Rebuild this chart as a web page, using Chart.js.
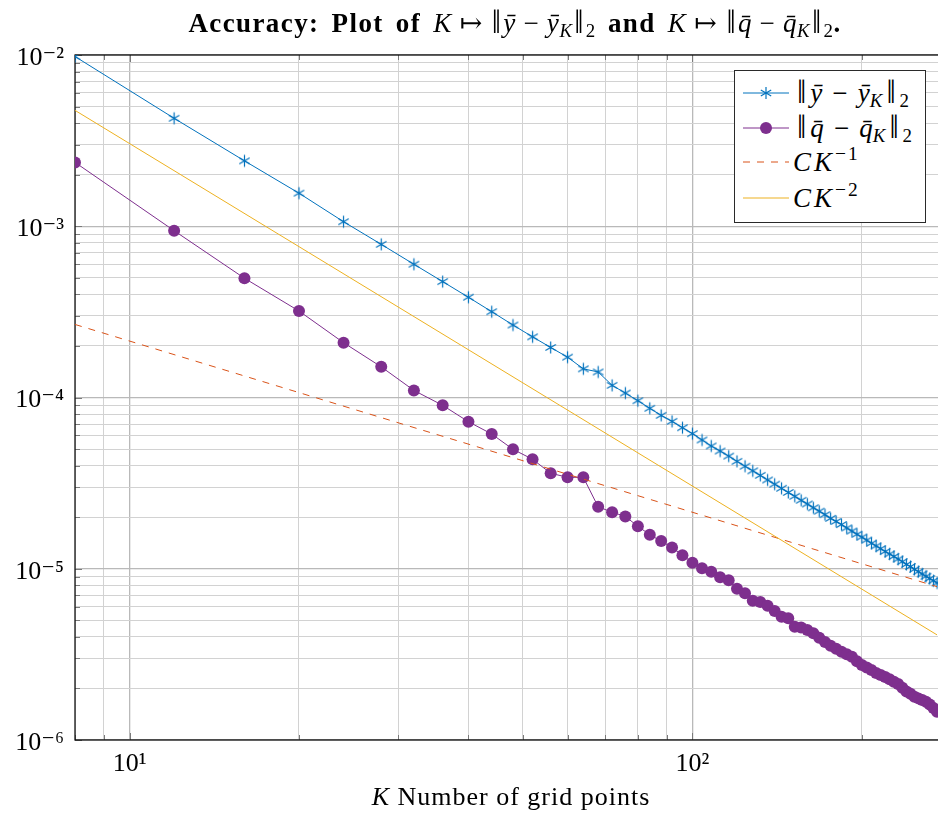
<!DOCTYPE html>
<html>
<head>
<meta charset="utf-8">
<script src="https://cdn.jsdelivr.net/npm/chart.js@4.4.1/dist/chart.umd.min.js"></script>
<style>
  html, body { margin: 0; padding: 0; background: #fff; overflow: hidden; }
  #wrap { position: relative; width: 938px; height: 816px; overflow: hidden; }
  #chart { position: absolute; left: 0; top: 0; width: 960px; height: 816px; }
  .serif { font-family: 'Liberation Serif', 'DejaVu Serif', serif; color: #000; }
  #title { position: absolute; left: 0; width: 1030px; top: 6px; text-align: center;
           font-size: 27px; font-weight: bold; line-height: 34px; white-space: nowrap;
           letter-spacing: 1.4px; word-spacing: 4px; }
  #title .m { font-weight: normal; letter-spacing: 0.6px; }
  #xlabel { position: absolute; left: 0; width: 1022px; top: 782px; text-align: center;
            font-size: 26px; line-height: 30px; white-space: nowrap; letter-spacing: 1px; }
  #legend { position: absolute; left: 734px; top: 70px; width: 190px; height: 151px;
            border: 1px solid #2a2a2a; background: #fff; }
  .row { position: absolute; left: 0; height: 34px; width: 190px; }
  .row svg { position: absolute; left: 8px; top: 0; }
  .row span.t { position: absolute; left: 58px; top: 0; font-size: 27px; line-height: 34px; white-space: nowrap; }
  .row .op { margin: 0 0.38em; }
  .row .nb { margin: 0 0.12em; }
  .op { margin: 0 0.28em; }
  .nb { font-size: 1.22em; margin: 0 0.05em; line-height: 0; vertical-align: -0.04em; }
  .ck { letter-spacing: 3px; }
  sub { font-size: 0.7em; vertical-align: -0.28em; line-height: 0; }
  sup { font-size: 0.72em; vertical-align: 0.55em; line-height: 0; letter-spacing: 2px; }
</style>
</head>
<body>
<div id="wrap">
  <canvas id="chart" width="960" height="816"></canvas>
  <div id="title" class="serif">Accuracy: Plot of <span class="m"><i>K</i><span class="op">↦</span><span class="nb">‖</span><i>ȳ</i><span class="op">−</span><i>ȳ</i><sub><i>K</i></sub><span class="nb">‖</span><sub>2</sub></span> and <span class="m"><i>K</i><span class="op">↦</span><span class="nb">‖</span><i>q̄</i><span class="op">−</span><i>q̄</i><sub><i>K</i></sub><span class="nb">‖</span><sub>2</sub></span>.</div>
  <div id="xlabel" class="serif"><i>K</i> Number of grid points</div>
  <div id="legend" class="serif"></div>
</div>
<script>
// grid sizes K
const K = [8, 12, 16, 20, 24, 28, 32, 36, 40, 44, 48, 52, 56, 60, 64, 68, 72, 76, 80, 84,
           88, 92, 96, 100, 104, 108, 112, 116, 120, 124, 128, 132, 136, 140, 144, 148, 152, 156, 160, 164,
           168, 172, 176, 180, 184, 188, 192, 196, 200, 204, 208, 212, 216, 220, 224, 228, 232, 236, 240, 244,
           248, 252, 256, 260, 264, 268, 272];

// ||ybar - ybar_K||_2
const errY = [9.8e-3, 4.27e-3, 2.41e-3, 1.56e-3, 1.063e-3, 7.84e-4, 6.0e-4, 4.75e-4, 3.85e-4, 3.17e-4,
              2.65e-4, 2.26e-4, 1.96e-4, 1.72e-4, 1.47e-4, 1.41e-4, 1.178e-4, 1.062e-4, 9.58e-5, 8.65e-5,
              7.87e-5, 7.26e-5, 6.66e-5, 6.15e-5, 5.65e-5, 5.21e-5, 4.87e-5, 4.55e-5, 4.24e-5, 3.97e-5,
              3.73e-5, 3.51e-5, 3.30e-5, 3.12e-5, 2.95e-5, 2.79e-5, 2.65e-5, 2.51e-5, 2.39e-5, 2.27e-5,
              2.17e-5, 2.07e-5, 1.97e-5, 1.89e-5, 1.81e-5, 1.73e-5, 1.66e-5, 1.59e-5, 1.53e-5, 1.47e-5,
              1.41e-5, 1.36e-5, 1.31e-5, 1.26e-5, 1.22e-5, 1.18e-5, 1.14e-5, 1.10e-5, 1.06e-5, 1.03e-5,
              9.93e-6, 9.62e-6, 9.32e-6, 9.04e-6, 8.77e-6, 8.51e-6, 8.26e-6];

// ||qbar - qbar_K||_2
const errQ = [2.36e-3, 9.42e-4, 4.97e-4, 3.20e-4, 2.09e-4, 1.51e-4, 1.10e-4, 9.0e-5, 7.22e-5, 6.12e-5,
              4.98e-5, 4.36e-5, 3.61e-5, 3.42e-5, 3.42e-5, 2.30e-5, 2.14e-5, 2.02e-5, 1.77e-5, 1.58e-5,
              1.45e-5, 1.33e-5, 1.20e-5, 1.085e-5, 1.006e-5, 9.61e-6, 8.91e-6, 8.56e-6, 7.65e-6, 7.19e-6,
              6.51e-6, 6.39e-6, 6.08e-6, 5.66e-6, 5.25e-6, 5.14e-6, 4.59e-6, 4.54e-6, 4.39e-6, 4.20e-6,
              3.96e-6, 3.73e-6, 3.55e-6, 3.41e-6, 3.28e-6, 3.17e-6, 3.06e-6, 2.88e-6, 2.74e-6, 2.65e-6,
              2.56e-6, 2.46e-6, 2.40e-6, 2.33e-6, 2.26e-6, 2.19e-6, 2.12e-6, 2.02e-6, 1.92e-6, 1.86e-6,
              1.79e-6, 1.75e-6, 1.71e-6, 1.67e-6, 1.61e-6, 1.54e-6, 1.46e-6];

// reference slopes, end points only
const refK = [8, 272];
const refOrder1 = [2.67e-4, 7.86e-6];   // C K^-1
const refOrder2 = [4.75e-3, 4.11e-6];   // C K^-2

// axes
const X_MIN = 8, X_MAX = 288;
const Y_MIN = 1e-6, Y_MAX = 1e-2;
const X_DECADES = [1, 10, 100];
const Y_DECADES = [1e-6, 1e-5, 1e-4, 1e-3, 1e-2];
const MINOR_STEPS = [1, 2, 3, 4, 5, 6, 7, 8, 9];

const COLORS = {
    y: '#0072BD',
    q: '#7E2F8E',
    o1: '#D95319',
    o2: '#EDB120',
};

const SUP = { '-': '⁻', '0': '⁰', '1': '¹', '2': '²', '3': '³', '4': '⁴', '5': '⁵', '6': '⁶', '7': '⁷', '8': '⁸', '9': '⁹' };
const FONT = "'Liberation Serif', 'DejaVu Serif', serif";

function isDecade(v) {
    const l = Math.log10(v);
    return Math.abs(l - Math.round(l)) < 1e-9;
}

function powLabel(v) {
    if (!isDecade(v)) return '';
    const e = String(Math.round(Math.log10(v)));
    return '10' + e.split('').map(c => SUP[c]).join('');
}

function gridValues(decades, lo, hi) {
    const out = [];
    decades.forEach(d => MINOR_STEPS.forEach(m => {
        const v = +(d * m).toPrecision(6);
        if (v >= lo * (1 - 1e-9) && v <= hi * (1 + 1e-9)) out.push(v);
    }));
    return out;
}

function asterisk(color, r) {
    const s = Math.ceil(2 * r + 3);
    const c = document.createElement('canvas');
    c.width = s; c.height = s;
    const g = c.getContext('2d');
    g.strokeStyle = color;
    g.lineWidth = 1.2;
    g.translate(s / 2, s / 2);
    [90, 30, 150].forEach(a => {
        const dx = Math.cos(a * Math.PI / 180) * r, dy = Math.sin(a * Math.PI / 180) * r;
        g.beginPath();
        g.moveTo(-dx, -dy);
        g.lineTo(dx, dy);
        g.stroke();
    });
    return c;
}

const pts = (xs, ys) => xs.map((x, i) => ({ x, y: ys[i] }));

// frame + inward tick marks like pgfplots
const framePlugin = {
    id: 'frame',
    beforeDatasetsDraw(chart) {
        const { ctx, chartArea: a, scales } = chart;
        ctx.save();
        ctx.strokeStyle = '#7a7a7a';
        ctx.lineWidth = 1;
        scales.x.ticks.forEach(t => {
            const px = Math.round(scales.x.getPixelForValue(t.value)) + 0.5;
            const len = isDecade(t.value) ? 7 : 5;
            ctx.beginPath();
            ctx.moveTo(px, a.bottom); ctx.lineTo(px, a.bottom - len);
            ctx.moveTo(px, a.top); ctx.lineTo(px, a.top + len);
            ctx.stroke();
        });
        scales.y.ticks.forEach(t => {
            const py = Math.round(scales.y.getPixelForValue(t.value)) + 0.5;
            const len = isDecade(t.value) ? 7 : 5;
            ctx.beginPath();
            ctx.moveTo(a.left, py); ctx.lineTo(a.left + len, py);
            ctx.moveTo(a.right, py); ctx.lineTo(a.right - len, py);
            ctx.stroke();
        });
        ctx.strokeStyle = '#000';
        ctx.lineWidth = 1.2;
        ctx.strokeRect(a.left, a.top, a.right - a.left, a.bottom - a.top);
        ctx.restore();
    },
};

const starImg = asterisk(COLORS.y, 6);

new Chart(document.getElementById('chart'), {
    type: 'line',
    data: {
        datasets: [
            {
                label: '‖ȳ − ȳK‖2',
                data: pts(K, errY),
                borderColor: COLORS.y,
                borderWidth: 1,
                pointStyle: starImg,
                pointRadius: 6,
                order: 3,
            },
            {
                label: '‖q̄ − q̄K‖2',
                data: pts(K, errQ),
                borderColor: COLORS.q,
                backgroundColor: COLORS.q,
                borderWidth: 1,
                pointStyle: 'circle',
                pointRadius: 6,
                pointBorderWidth: 0,
                pointBackgroundColor: COLORS.q,
                order: 2,
            },
            {
                label: 'CK^-1',
                data: pts(refK, refOrder1),
                borderColor: COLORS.o1,
                borderWidth: 1,
                borderDash: [7, 7],
                pointRadius: 0,
                order: 1,
            },
            {
                label: 'CK^-2',
                data: pts(refK, refOrder2),
                borderColor: COLORS.o2,
                borderWidth: 1,
                pointRadius: 0,
                order: 0,
            },
        ],
    },
    options: {
        responsive: false,
        animation: false,
        events: [],
        layout: { padding: { left: 0, top: 55, right: 9, bottom: 0 } },
        elements: { line: { tension: 0, fill: false } },
        plugins: {
            legend: { display: false },
            tooltip: { enabled: false },
            title: { display: false },
        },
        scales: {
            x: {
                type: 'logarithmic',
                min: X_MIN,
                max: X_MAX,
                afterFit: s => { s.height = 76; },
                afterBuildTicks: s => { s.ticks = gridValues(X_DECADES, X_MIN, X_MAX).map(v => ({ value: v })); },
                ticks: {
                    autoSkip: false,
                    maxRotation: 0,
                    padding: 9,
                    color: '#000',
                    font: { family: FONT, size: 26 },
                    callback: v => powLabel(v),
                },
                grid: {
                    drawTicks: false,
                    color: c => isDecade(c.tick.value) ? '#b9b9b9' : '#d2d2d2',
                    lineWidth: c => isDecade(c.tick.value) ? 1.3 : 1,
                },
                border: { display: false },
            },
            y: {
                type: 'logarithmic',
                min: Y_MIN,
                max: Y_MAX,
                afterFit: s => { s.width = 75; },
                afterBuildTicks: s => { s.ticks = gridValues(Y_DECADES, Y_MIN, Y_MAX).map(v => ({ value: v })); },
                ticks: {
                    autoSkip: false,
                    padding: 11,
                    labelOffset: 3,
                    color: '#000',
                    font: { family: FONT, size: 26 },
                    callback: v => powLabel(v),
                },
                grid: {
                    drawTicks: false,
                    color: c => isDecade(c.tick.value) ? '#b9b9b9' : '#d2d2d2',
                    lineWidth: c => isDecade(c.tick.value) ? 1.3 : 1,
                },
                border: { display: false },
            },
        },
    },
    plugins: [framePlugin],
});

// legend (html so the math can be italic with sub/superscripts)
const LEGEND = [
    { html: '<span class="nb">‖</span><i>ȳ</i><span class="op">−</span><i>ȳ</i><sub><i>K</i></sub><span class="nb">‖</span><sub>2</sub>', color: COLORS.y, mark: 'star' },
    { html: '<span class="nb">‖</span><i>q̄</i><span class="op">−</span><i>q̄</i><sub><i>K</i></sub><span class="nb">‖</span><sub>2</sub>', color: COLORS.q, mark: 'dot' },
    { html: '<i class="ck">CK</i><sup>−1</sup>', color: COLORS.o1, dash: true },
    { html: '<i class="ck">CK</i><sup>−2</sup>', color: COLORS.o2 },
];
const ROW_TOP = [5, 40, 74, 110];

const leg = document.getElementById('legend');
LEGEND.forEach((e, i) => {
    let mark = '';
    if (e.mark === 'star') {
        const r = 6;
        mark = [90, 30, 150].map(a => {
            const dx = Math.cos(a * Math.PI / 180) * r, dy = Math.sin(a * Math.PI / 180) * r;
            return `<line x1="${23 - dx}" y1="${17 - dy}" x2="${23 + dx}" y2="${17 + dy}" stroke="${e.color}" stroke-width="1.2"/>`;
        }).join('');
    } else if (e.mark === 'dot') {
        mark = `<circle cx="23" cy="17" r="6" fill="${e.color}"/>`;
    }
    const dash = e.dash ? ' stroke-dasharray="7 7"' : '';
    const row = document.createElement('div');
    row.className = 'row';
    row.style.top = ROW_TOP[i] + 'px';
    row.innerHTML = `<svg width="46" height="34"><line x1="0" y1="17" x2="46" y2="17" stroke="${e.color}" stroke-width="1"${dash}/>${mark}</svg><span class="t">${e.html}</span>`;
    leg.appendChild(row);
});
</script>
</body>
</html>
